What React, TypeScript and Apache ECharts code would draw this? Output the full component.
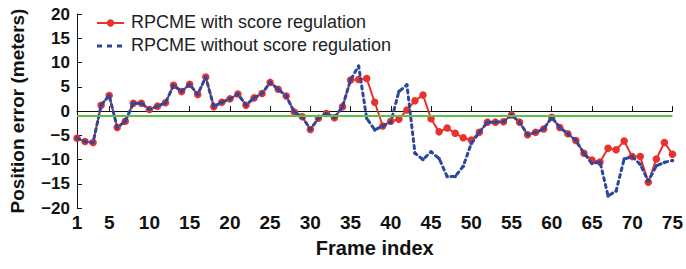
import React, { useEffect, useRef } from "react";
import * as echarts from "echarts";

const frames: string[] = Array.from({ length: 75 }, (_, i) => String(i + 1));
const xTickLabels: number[] = [1, 5, 10, 15, 20, 25, 30, 35, 40, 45, 50, 55, 60, 65, 70, 75];
const yMin = -20;
const yMax = 20;
const yStep = 5;
const referenceLevel = -1;

const withRegulation: number[] = [
  -5.6, -6.3, -6.5, 1.2, 3.2, -3.4, -2.1, 1.6, 1.6, 0.3,
  1.0, 1.7, 5.3, 4.0, 5.5, 3.4, 7.0, 0.9, 1.8, 2.5,
  3.5, 1.2, 2.7, 3.6, 5.9, 4.5, 3.1, -0.2, -1.2, -3.8,
  -1.5, -0.5, -1.4, 0.9, 6.4, 6.5, 6.7, 1.8, -3.1, -2.1,
  -1.7, 0.2, 2.1, 3.3, -1.6, -4.3, -3.5, -4.6, -5.5, -6.0,
  -4.4, -2.3, -2.3, -2.2, -0.8, -2.3, -4.9, -4.4, -3.7, -1.3,
  -3.4, -4.7, -6.1, -8.7, -10.1, -10.5, -7.7, -8.0, -6.2, -9.4,
  -9.4, -14.7, -9.9, -6.5, -8.9,
];

const withoutRegulation: number[] = [
  -5.6, -6.3, -6.5, 1.2, 3.2, -3.4, -2.1, 1.6, 1.6, 0.3,
  1.0, 1.7, 5.3, 4.0, 5.5, 3.4, 7.0, 0.9, 1.8, 2.5,
  3.5, 1.2, 2.7, 3.6, 5.9, 4.5, 3.1, -0.2, -1.2, -3.8,
  -1.5, -0.5, -1.4, 0.9, 6.4, 9.3, -1.5, -3.9, -3.1, -2.3,
  4.0, 5.4, -8.7, -10.0, -8.4, -9.8, -13.5, -13.5, -11.4, -6.7,
  -4.4, -2.3, -2.3, -2.2, -0.8, -2.3, -4.9, -4.4, -3.7, -1.3,
  -3.4, -4.7, -6.1, -8.7, -10.8, -10.5, -17.5, -16.5, -9.9, -9.4,
  -11.0, -14.5, -11.3, -10.6, -10.2,
];

const seriesNames = ["RPCME with score regulation", "RPCME without score regulation"];
const RED = "#e8322b";
const BLUE = "#2d479c";
const GREEN = "#5cbf46";

const sans = "'Liberation Sans', Arial, Helvetica, sans-serif";

export default function App() {
  const ref = useRef<HTMLDivElement>(null);
  useEffect(() => {
    document.body.style.margin = "0";
    if (!ref.current) return;
    const chart = echarts.init(ref.current, undefined, { renderer: "svg" });
    const showTick = (_: number, value: string) => xTickLabels.includes(Number(value));
    chart.setOption({
      animation: false,
      backgroundColor: "#ffffff",
      grid: { left: 77, right: 12, top: 14, bottom: 61, containLabel: false },
      xAxis: {
        type: "category",
        data: frames,
        boundaryGap: false,
        name: "Frame index",
        nameLocation: "middle",
        nameGap: 30,
        nameTextStyle: { fontFamily: sans, fontWeight: "bold", fontSize: 20, color: "#111" },
        axisLine: { show: true, lineStyle: { color: "#111", width: 1 } },
        axisTick: { show: true, inside: true, length: 5, interval: showTick, lineStyle: { color: "#111" } },
        axisLabel: {
          interval: showTick,
          margin: 5,
          fontFamily: sans,
          fontWeight: "bold",
          fontSize: 19,
          color: "#111",
        },
        splitLine: { show: false },
      },
      yAxis: {
        type: "value",
        min: yMin,
        max: yMax,
        interval: yStep,
        name: "Position error (meters)",
        nameLocation: "middle",
        nameGap: 50,
        nameTextStyle: { fontFamily: sans, fontWeight: "bold", fontSize: 19, color: "#111" },
        axisLine: { show: true, lineStyle: { color: "#111", width: 1 } },
        axisTick: { show: true, inside: true, length: 5, lineStyle: { color: "#111" } },
        axisLabel: {
          margin: 7,
          fontFamily: sans,
          fontWeight: "bold",
          fontSize: 17,
          color: "#111",
          formatter: (v: number) => (v < 0 ? "\u2212" + Math.abs(v) : String(v)),
        },
        splitLine: { show: false },
      },
      series: [
        {
          name: seriesNames[0],
          type: "line",
          data: withRegulation,
          symbol: "circle",
          symbolSize: 7.5,
          showAllSymbol: true,
          itemStyle: { color: RED },
          lineStyle: { color: RED, width: 2 },
          z: 2,
        },
        {
          name: seriesNames[1],
          type: "line",
          data: withoutRegulation,
          symbol: "circle",
          symbolSize: 3.5,
          showAllSymbol: true,
          itemStyle: { color: BLUE },
          lineStyle: { color: BLUE, width: 3, type: [3, 4], cap: "round" },
          z: 3,
          markLine: {
            silent: true,
            symbol: "none",
            label: { show: false },
            lineStyle: { color: GREEN, width: 2, type: "solid" },
            data: [{ yAxis: referenceLevel }],
          },
        },
      ],
      graphic: [
        { type: "line", shape: { x1: 97, y1: 23, x2: 124, y2: 23 }, style: { stroke: RED, lineWidth: 2 } },
        { type: "circle", shape: { cx: 110.5, cy: 23, r: 3.7 }, style: { fill: RED } },
        {
          type: "text",
          left: 131,
          top: 13,
          style: { text: seriesNames[0], fontFamily: sans, fontSize: 18, fill: "#222" },
        },
        {
          type: "line",
          shape: { x1: 97, y1: 46, x2: 124, y2: 46 },
          style: { stroke: BLUE, lineWidth: 3, lineDash: [5, 5] },
        },
        {
          type: "text",
          left: 131,
          top: 36,
          style: { text: seriesNames[1], fontFamily: sans, fontSize: 18, fill: "#222" },
        },
      ],
    });
    return () => chart.dispose();
  }, []);
  return <div ref={ref} style={{ width: 686, height: 269, position: "fixed", left: 0, top: 0 }} />;
}
